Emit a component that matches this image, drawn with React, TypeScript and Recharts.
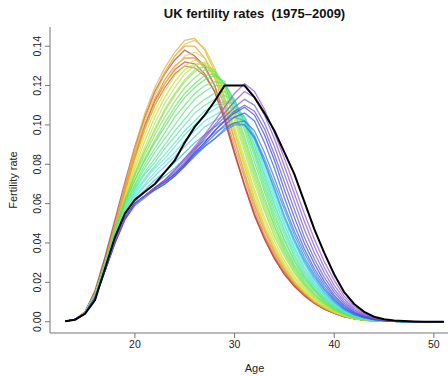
import React from 'react';
import { LineChart, Line, XAxis, YAxis, Label } from 'recharts';

const ages = [13, 14, 15, 16, 17, 18, 19, 20, 21, 22, 23, 24, 25, 26, 27, 28, 29, 30, 31, 32, 33, 34, 35, 36, 37, 38, 39, 40, 41, 42, 43, 44, 45, 46, 47, 48, 49, 50, 51];
const years = [1975, 1976, 1977, 1978, 1979, 1980, 1981, 1982, 1983, 1984, 1985, 1986, 1987, 1988, 1989, 1990, 1991, 1992, 1993, 1994, 1995, 1996, 1997, 1998, 1999, 2000, 2001, 2002, 2003, 2004, 2005, 2006, 2007, 2008, 2009];

// births per 1000 women, ages 13..51
const r1975 = [0.2, 1.2, 5, 16, 33, 52, 71, 89, 104, 117, 126, 133, 138, 135, 130, 120, 104, 86, 69, 54, 42, 32, 24, 18, 13.5, 9.5, 6.5, 4.3, 2.6, 1.5, 0.8, 0.4, 0.2, 0.1, 0, 0, 0, 0, 0];
const r1976 = [0.2, 1.2, 5, 15, 32, 50, 68, 85, 100, 112, 121, 128, 132, 131, 126, 117, 102, 85, 69, 54, 42, 32, 24, 18, 13, 9.3, 6.3, 4.2, 2.5, 1.4, 0.8, 0.4, 0.2, 0.1, 0, 0, 0, 0, 0];
const r1977 = [0.2, 1.1, 4.8, 14, 30, 48, 66, 83, 98, 110, 119, 126, 130, 129, 125, 117, 103, 86, 70, 55, 43, 33, 25, 18.5, 13.5, 9.5, 6.5, 4.3, 2.6, 1.5, 0.8, 0.4, 0.2, 0.1, 0, 0, 0, 0, 0];
const r1978 = [0.2, 1.1, 4.7, 14, 30, 48, 66, 84, 100, 113, 123, 130, 134, 134, 129, 120, 106, 89, 73, 57, 44, 34, 25.5, 19, 14, 9.8, 6.7, 4.4, 2.7, 1.5, 0.8, 0.4, 0.2, 0.1, 0, 0, 0, 0, 0];
const r1979 = [0.2, 1.1, 4.7, 14, 30, 49, 68, 87, 104, 117, 127, 135, 140, 140, 134, 124, 109, 92, 75, 59, 46, 35, 26.5, 19.5, 14.5, 10, 7, 4.5, 2.7, 1.5, 0.8, 0.4, 0.2, 0.1, 0, 0, 0, 0, 0];
const r1980 = [0.2, 1.1, 4.7, 14, 30, 49, 69, 89, 106, 119, 129, 137, 143, 144, 138, 127, 111, 93, 76, 60, 47, 36, 27, 20, 14.5, 10, 7, 4.6, 2.8, 1.6, 0.8, 0.4, 0.2, 0.1, 0, 0, 0, 0, 0];
const r1981 = [0.2, 1.1, 4.6, 13.5, 29, 47, 66, 85, 102, 115, 126, 135, 141, 143, 139, 129, 114, 96, 79, 62, 48, 37, 28, 20.5, 15, 10.5, 7.2, 4.7, 2.8, 1.6, 0.8, 0.4, 0.2, 0.1, 0, 0, 0, 0, 0];
const r1982 = [0.2, 1.1, 4.6, 13.5, 29, 46, 64, 82, 98, 110, 121, 129, 135, 137, 134, 126, 112, 96, 79, 63, 49, 38, 28.5, 21, 15.5, 11, 7.5, 4.9, 2.9, 1.6, 0.9, 0.4, 0.2, 0.1, 0, 0, 0, 0, 0];
const r1983 = [0.2, 1.1, 4.5, 13.5, 29, 46, 63, 80, 95, 107, 117, 125, 130, 133, 131, 124, 112, 97, 81, 65, 51, 39, 29.5, 22, 16, 11.5, 7.8, 5.1, 3.1, 1.7, 0.9, 0.5, 0.2, 0.1, 0, 0, 0, 0, 0];
const r1984 = [0.2, 1.1, 4.5, 13.5, 29, 46, 62, 78, 92, 104, 114, 122, 128, 131, 131, 125, 114, 99, 83, 67, 53, 41, 31, 23, 17, 12, 8.2, 5.4, 3.3, 1.8, 1, 0.5, 0.2, 0.1, 0, 0, 0, 0, 0];
const r1985 = [0.2, 1.1, 4.5, 13.5, 29, 46, 61, 76, 89, 101, 111, 119, 126, 130, 132, 127, 117, 102, 86, 70, 56, 43, 33, 24.5, 18, 12.5, 8.6, 5.6, 3.4, 1.9, 1, 0.5, 0.2, 0.1, 0, 0, 0, 0, 0];
const r1986 = [0.2, 1.1, 4.5, 13.5, 29, 46, 61, 75, 87, 98, 108, 116, 123, 128, 130, 127, 118, 104, 88, 72, 57, 44, 34, 25, 18.5, 13, 9, 5.8, 3.5, 2, 1.1, 0.5, 0.2, 0.1, 0, 0, 0, 0, 0];
const r1987 = [0.2, 1.1, 4.6, 14, 30, 47, 62, 75, 87, 97, 107, 115, 122, 127, 130, 128, 120, 106, 90, 74, 59, 46, 35, 26, 19, 13.5, 9.2, 6, 3.6, 2, 1.1, 0.5, 0.2, 0.1, 0, 0, 0, 0, 0];
const r1988 = [0.2, 1.1, 4.6, 14, 30, 47, 62, 74, 85, 95, 104, 112, 119, 124, 128, 127, 120, 107, 92, 76, 61, 48, 36, 27, 19.5, 14, 9.5, 6.2, 3.8, 2.1, 1.1, 0.5, 0.2, 0.1, 0, 0, 0, 0, 0];
const r1989 = [0.2, 1.1, 4.6, 14, 30, 47, 61, 72, 83, 92, 101, 109, 116, 121, 125, 126, 121, 109, 94, 78, 63, 49, 37.5, 28, 20.5, 14.5, 10, 6.5, 4, 2.2, 1.2, 0.6, 0.3, 0.1, 0, 0, 0, 0, 0];
const r1990 = [0.2, 1.1, 4.7, 14, 30, 47, 61, 72, 82, 91, 99, 107, 114, 119, 123, 125, 122, 111, 97, 81, 66, 51, 39, 29, 21.5, 15.5, 10.5, 6.8, 4.2, 2.3, 1.2, 0.6, 0.3, 0.1, 0, 0, 0, 0, 0];
const r1991 = [0.2, 1.1, 4.7, 14, 30, 46, 60, 70, 80, 88, 96, 104, 110, 116, 120, 122, 121, 112, 99, 84, 68, 53, 41, 30.5, 22.5, 16, 11, 7.2, 4.4, 2.5, 1.3, 0.6, 0.3, 0.1, 0, 0, 0, 0, 0];
const r1992 = [0.2, 1.1, 4.6, 13.5, 29, 45, 59, 69, 78, 86, 93, 100, 107, 113, 117, 120, 120, 113, 101, 86, 70, 55, 42, 31.5, 23, 16.5, 11.5, 7.5, 4.6, 2.6, 1.4, 0.7, 0.3, 0.1, 0, 0, 0, 0, 0];
const r1993 = [0.2, 1.1, 4.5, 13, 28, 44, 58, 68, 76, 83, 90, 97, 103, 109, 113, 116, 117, 112, 101, 87, 72, 57, 44, 33, 24, 17, 12, 7.8, 4.8, 2.7, 1.4, 0.7, 0.3, 0.1, 0, 0, 0, 0, 0];
const r1994 = [0.2, 1.1, 4.4, 13, 28, 43, 57, 67, 75, 81, 88, 94, 100, 106, 110, 113, 115, 112, 102, 89, 74, 59, 46, 34, 25, 18, 12.5, 8.2, 5, 2.8, 1.5, 0.7, 0.3, 0.1, 0, 0, 0, 0, 0];
const r1995 = [0.2, 1.1, 4.3, 12.5, 27, 42, 56, 66, 73, 79, 85, 91, 97, 102, 107, 110, 112, 111, 103, 90, 75, 60, 47, 35.5, 26, 18.5, 13, 8.5, 5.2, 3, 1.6, 0.8, 0.4, 0.1, 0, 0, 0, 0, 0];
const r1996 = [0.2, 1.1, 4.3, 12.5, 27, 42, 56, 65, 72, 78, 83, 89, 95, 100, 105, 108, 111, 111, 104, 92, 77, 62, 49, 37, 27, 19.5, 13.5, 8.8, 5.4, 3.1, 1.7, 0.8, 0.4, 0.2, 0, 0, 0, 0, 0];
const r1997 = [0.2, 1.1, 4.3, 12.5, 27, 42, 55, 64, 70, 76, 81, 86, 92, 97, 102, 105, 108, 109, 104, 93, 79, 64, 50, 38, 28, 20, 14, 9.2, 5.6, 3.2, 1.7, 0.9, 0.4, 0.2, 0, 0, 0, 0, 0];
const r1998 = [0.2, 1.1, 4.3, 12.5, 27, 42, 55, 63, 69, 74, 79, 84, 89, 94, 99, 102, 105, 107, 104, 95, 81, 66, 52, 40, 29.5, 21, 14.5, 9.5, 5.8, 3.3, 1.8, 0.9, 0.4, 0.2, 0, 0, 0, 0, 0];
const r1999 = [0.2, 1.1, 4.3, 12.5, 27, 41, 54, 62, 67, 72, 76, 81, 86, 91, 95, 99, 102, 104, 102, 94, 81, 67, 53, 41, 30.5, 22, 15, 10, 6, 3.5, 1.9, 1, 0.5, 0.2, 0, 0, 0, 0, 0];
const r2000 = [0.2, 1.1, 4.3, 12.5, 27, 41, 53, 61, 66, 70, 74, 78, 83, 88, 92, 96, 99, 101, 100, 93, 81, 68, 54, 42, 31.5, 23, 16, 10.5, 6.3, 3.6, 2, 1, 0.5, 0.2, 0, 0, 0, 0, 0];
const r2001 = [0.2, 1.1, 4.2, 12, 26, 40, 52, 60, 64, 68, 71, 75, 80, 85, 89, 93, 97, 100, 100, 94, 83, 70, 57, 44, 33, 24, 16.5, 11, 6.6, 3.8, 2.1, 1.1, 0.5, 0.2, 0, 0, 0, 0, 0];
const r2002 = [0.2, 1.1, 4.2, 12, 26, 40, 52, 59, 63, 67, 70, 74, 79, 84, 89, 93, 98, 101, 102, 97, 86, 73, 59, 46, 35, 25.5, 17.5, 11.5, 7, 4, 2.2, 1.1, 0.5, 0.2, 0, 0, 0, 0, 0];
const r2003 = [0.2, 1.1, 4.2, 12, 26, 40, 52, 60, 64, 67, 70, 74, 79, 85, 90, 95, 100, 104, 106, 102, 91, 78, 63, 49, 37, 27, 19, 12.5, 7.6, 4.4, 2.4, 1.2, 0.6, 0.3, 0, 0, 0, 0, 0];
const r2004 = [0.2, 1.1, 4.3, 12, 26, 41, 53, 60, 64, 68, 71, 75, 80, 86, 91, 97, 102, 106, 109, 105, 95, 82, 67, 53, 40, 29.5, 20.5, 13.5, 8.3, 4.8, 2.6, 1.3, 0.6, 0.3, 0, 0, 0, 0, 0];
const r2005 = [0.2, 1.1, 4.3, 12, 26, 41, 53, 60, 64, 68, 71, 75, 80, 86, 91, 97, 102, 107, 110, 107, 98, 85, 71, 57, 43, 32, 22.5, 15, 9.2, 5.3, 2.9, 1.5, 0.7, 0.3, 0, 0, 0, 0, 0];
const r2006 = [0.2, 1.1, 4.3, 12, 26, 41, 53, 60, 64, 68, 72, 76, 81, 87, 93, 99, 104, 109, 113, 110, 101, 89, 75, 61, 47, 35, 25, 16.5, 10.2, 6, 3.3, 1.7, 0.8, 0.4, 0.1, 0, 0, 0, 0];
const r2007 = [0.2, 1.1, 4.3, 12, 26, 41, 53, 60, 64, 68, 72, 77, 82, 88, 94, 100, 106, 112, 117, 114, 105, 93, 79, 65, 51, 38.5, 27.5, 18.5, 11.5, 6.8, 3.8, 1.9, 0.9, 0.4, 0.1, 0, 0, 0, 0];
const r2008 = [0.2, 1.1, 4.3, 12, 26, 41, 53, 60, 64, 68, 72, 77, 83, 89, 95, 102, 109, 116, 121, 117, 108, 96, 83, 69, 55, 42, 30.5, 21, 13, 7.8, 4.3, 2.2, 1, 0.5, 0.2, 0, 0, 0, 0];
const r2009 = [0.2, 1, 4, 11, 27, 43, 55, 62, 66, 70, 76, 82, 91, 99, 105, 112, 120, 120, 120, 114, 106, 97, 86, 75, 61, 47, 35, 24, 15, 9, 5, 2.5, 1.2, 0.6, 0.3, 0.1, 0, 0, 0];

const rates = [
  r1975, r1976, r1977, r1978, r1979, r1980, r1981, r1982, r1983, r1984,
  r1985, r1986, r1987, r1988, r1989, r1990, r1991, r1992, r1993, r1994,
  r1995, r1996, r1997, r1998, r1999, r2000, r2001, r2002, r2003, r2004,
  r2005, r2006, r2007, r2008, r2009,
];

const xTicks = [20, 30, 40, 50];
const yTicks = [0, 0.02, 0.04, 0.06, 0.08, 0.1, 0.12, 0.14];

const data = ages.map((age, i) => {
  const row: Record<string, number> = { age };
  years.forEach((yr, j) => {
    row['y' + yr] = rates[j][i] / 1000;
  });
  return row;
});

const FONT = '"Liberation Sans", Arial, Helvetica, sans-serif';
const AXIS = '#777';

// rainbow from red (1975) to violet (2008), last year in black
const lineColor = (j: number) => {
  if (j === years.length - 1) return '#000';
  const h = (j / (years.length - 2)) * 270;
  let s = 78;
  let l = 58;
  if (h < 22) { s = 58; l = 48; }
  else if (h < 50) { s = 72; l = 56; }
  else if (h < 75) { s = 75; l = 54; }
  else if (h < 195) { s = 72; l = 62; }
  else if (h < 245) { s = 75; l = 55; }
  else { s = 62; l = 58; }
  return `hsl(${h.toFixed(0)}, ${s}%, ${l}%)`;
};

const YTick = (props: any) => {
  const { x, y, payload } = props;
  return (
    <text
      x={x}
      y={y}
      transform={`rotate(-90 ${x} ${y})`}
      textAnchor="middle"
      fontSize={10.5}
      fontFamily={FONT}
      fill="#222"
    >
      {Number(payload.value).toFixed(2)}
    </text>
  );
};

const YTitle = () => (
  <text
    x={17}
    y={180}
    transform="rotate(-90 17 180)"
    textAnchor="middle"
    fontSize={11}
    fontFamily={FONT}
    fill="#222"
  >
    Fertility rate
  </text>
);

export default function App() {
  return (
    <div style={{ position: 'relative', width: 448, height: 376, overflow: 'hidden', background: '#fff' }}>
      <style>{'body{margin:0;overflow:hidden;}'}</style>
      <div
        style={{
          position: 'absolute',
          left: 50,
          width: 409,
          top: 6,
          textAlign: 'center',
          fontFamily: FONT,
          fontWeight: 'bold',
          fontSize: 13,
          color: '#111',
          whiteSpace: 'pre',
        }}
      >
        UK fertility rates  (1975–2009)
      </div>
      <LineChart
        width={463}
        height={376}
        data={data}
        margin={{ top: 27, right: 4, bottom: 0, left: 0 }}
      >
        <XAxis
          dataKey="age"
          type="number"
          domain={[11.48, 52.52]}
          allowDataOverflow
          ticks={xTicks}
          tickSize={5}
          tickMargin={3}
          height={43}
          axisLine={{ stroke: AXIS }}
          tickLine={{ stroke: AXIS }}
          tick={{ fontSize: 10.5, fill: '#222', fontFamily: FONT }}
        >
          <Label value="Age" position="insideBottom" offset={4} style={{ fontSize: 11, fill: '#222', fontFamily: FONT }} />
        </XAxis>
        <XAxis
          xAxisId="top"
          dataKey="age"
          type="number"
          orientation="top"
          domain={[11.48, 52.52]}
          allowDataOverflow
          height={0}
          tick={false}
          tickLine={false}
          axisLine={{ stroke: AXIS }}
        />
        <YAxis
          type="number"
          domain={[-0.00576, 0.14976]}
          allowDataOverflow
          ticks={yTicks}
          width={50}
          tickSize={5}
          tickMargin={4}
          axisLine={{ stroke: AXIS }}
          tickLine={{ stroke: AXIS }}
          tick={<YTick />}
        >
          <Label content={<YTitle />} />
        </YAxis>
        {years.map((yr, j) => (
          <Line
            key={yr}
            type="linear"
            dataKey={'y' + yr}
            stroke={lineColor(j)}
            strokeWidth={j === years.length - 1 ? 2 : 1.3}
            strokeOpacity={j === years.length - 1 ? 1 : 0.72}
            dot={false}
            activeDot={false}
            isAnimationActive={false}
          />
        ))}
      </LineChart>
    </div>
  );
}
